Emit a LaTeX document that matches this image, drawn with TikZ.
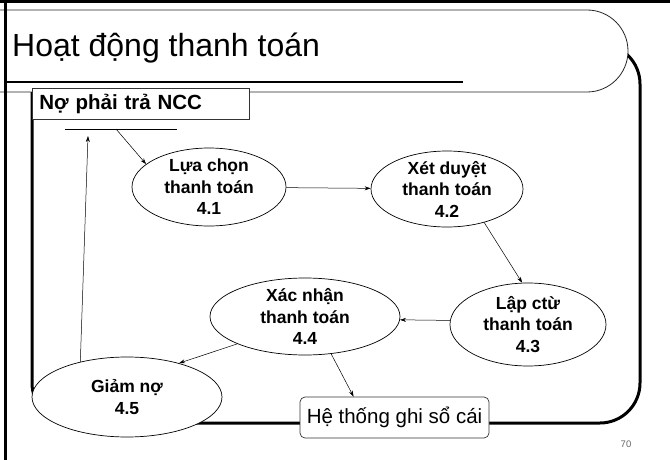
\documentclass[tikz,border=0pt]{standalone}
\usepackage{fontspec}
\setmainfont{Liberation Sans}
\usetikzlibrary{shapes.geometric,arrows.meta}
\begin{document}
\begin{tikzpicture}[x=1pt,y=-1pt,
  proc/.style={ellipse,draw,fill=white,line width=0.7pt,inner sep=0pt},
  proctext/.style={inner sep=0pt,align=center,font=\fontsize{17.5}{21.5}\selectfont\bfseries},
  flow/.style={line width=0.5pt,-{Stealth[length=6pt,width=4pt]}},
  store/.style={draw=black!80,fill=white,line width=0.7pt}]
\useasboundingbox (0,0) rectangle (670,460);

% content frame
\draw[line width=3pt,rounded corners=40pt] (32,44) rectangle (640,423);

% title band
\draw[fill=white,line width=0.8pt,draw=black!85,rounded corners=41pt]
  (-5,10) -- (628,10) -- (628,92) -- (-5,92);
\draw[line width=2.5pt] (5,82) -- (463,82);
\node[anchor=base west,inner sep=0pt,font=\fontsize{32}{38}\selectfont] (title) at (12,57) {Hoạt động thanh toán};

% slide edge
\draw[line width=3pt] (5.5,0) -- (5.5,460);
\draw[line width=3pt] (0,1.5) -- (670,1.5);

% data store
\node[store,anchor=north west,minimum width=217pt,minimum height=31pt,inner xsep=7pt,inner ysep=0pt,
      text width=203pt,align=left,font=\fontsize{20.5}{24}\selectfont\bfseries] (ncc) at (32,88) {Nợ phải trả NCC};
\node[minimum width=112pt,minimum height=6pt,inner sep=0pt] (ds) at (121,126) {};
\draw[line width=0.7pt] (ds.south west) -- (ds.south east);
\coordinate (dsout) at (116,129);
\coordinate (dsin) at (88,136);

% processes
\node[proc,minimum width=154pt,minimum height=78pt] (n41) at (209,187) {};
\node[proc,minimum width=152pt,minimum height=76pt] (n42) at (447,189) {};
\node[proc,minimum width=156pt,minimum height=83pt] (n43) at (528,324.5) {};
\node[proc,minimum width=190pt,minimum height=77pt] (n44) at (305,316.5) {};
\node[proc,minimum width=190pt,minimum height=80pt] (n45) at (127,397) {};
\node[proctext] (t41) at (n41) {Lựa chọn\\thanh toán\\4.1};
\node[proctext] (t42) at (n42) {Xét duyệt\\thanh toán\\4.2};
\node[proctext] (t43) at (n43) {Lập ctừ\\thanh toán\\4.3};
\node[proctext] (t44) at (n44) {Xác nhận\\thanh toán\\4.4};
\node[proctext] (t45) at (n45) {Giảm nợ\\4.5};

% external entity
\node[draw=black!80,fill=white,line width=0.7pt,rounded corners=5pt,minimum width=189pt,minimum height=41pt,
      inner sep=0pt,font=\fontsize{20.5}{24}\selectfont] (hs) at (394.5,417.5) {Hệ thống ghi sổ cái};

% page number
\node[inner sep=0pt,text=black!60,font=\fontsize{9.5}{11}\selectfont] (pg) at (626,444) {70};

% flows
\draw[flow] (dsout) -- (n41.160);
\draw[flow] (n41) -- (n42);
\draw[flow] (n42.-42) -- (n43.98);
\draw[flow] (n43.177) -- (n44.-2);
\draw[flow] (n44.202) -- (n45.33);
\draw[flow] (n44.-55) -- (hs.153);
\draw[flow] (n45.143) -- (dsin);
\end{tikzpicture}
\end{document}
